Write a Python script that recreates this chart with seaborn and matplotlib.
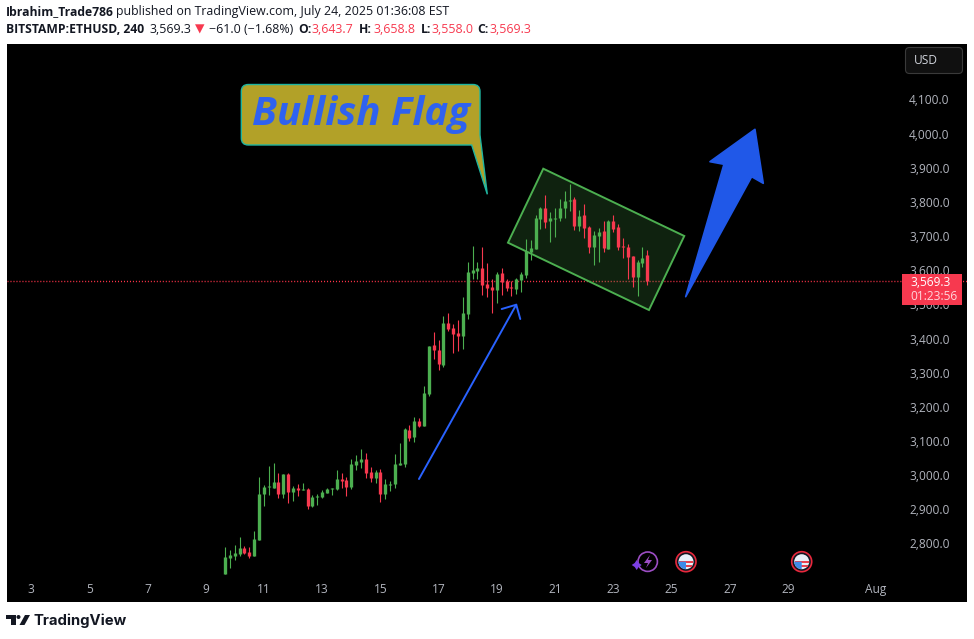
import numpy as np
import pandas as pd
import seaborn as sns
import matplotlib
matplotlib.use('Agg')
import matplotlib.pyplot as plt
from matplotlib.patches import Circle, FancyBboxPatch, Polygon, PathPatch, Rectangle, Wedge
from matplotlib.path import Path
from matplotlib.transforms import Affine2D

# 4h candles, first one is July 9 16:00
first_day = 9 + 16 / 24
opens = [2711.6, 2757.5, 2763.3, 2769, 2786.7, 2775, 2763.3, 2810, 2945, 2965, 2962.4,
         2980, 2945, 3003.4, 2950.7, 2962.4, 2956.6, 2959.5, 2909.7, 2936, 2936, 2947.8,
         2959.5, 2959.5, 2988.8, 2985.8, 2965.3, 3029.8, 3038.5, 3047.3, 3009.3, 2991.7,
         3009.3, 2944.8, 2971.2, 2974.1, 3029.8, 3032.7, 3132.2, 3111.7, 3158.6, 3143.9,
         3237.7, 3381.2, 3366.5, 3322.6, 3445.6, 3431, 3416.3, 3407.5, 3472, 3592, 3597.8,
         3606.6, 3559.8, 3551, 3542.2, 3592, 3568.6, 3551, 3545.2, 3571.5, 3586.1, 3653.4,
         3662.2, 3750, 3782.3, 3744.2, 3750, 3753, 3782.3, 3802.8, 3808.6, 3729.6, 3761.8,
         3726.6, 3668.1, 3700.3, 3714.9, 3662.2, 3744.2, 3726.6, 3671, 3668.1, 3641.7,
         3580.2, 3621.2, 3643.7]
closes = [2760.4, 2766.2, 2772, 2786.7, 2772, 2763.3, 2813, 2945, 2965, 2968, 2980,
          2945, 3003.4, 2950.7, 2962.4, 2956.6, 2959.5, 2909.7, 2936, 2939, 2950.7, 2959.5,
          2961.4, 2988.8, 2983, 2965.3, 3032.7, 3041.5, 3047.3, 3006.3, 2991.7, 3009.3,
          2944.8, 2974.1, 2974.1, 3032.7, 3035.6, 3135.2, 3108.8, 3158.6, 3143.9, 3240.6,
          3378, 3366.5, 3325.5, 3445.6, 3428, 3413.4, 3407.5, 3474.9, 3594.9, 3600.8, 3606.6,
          3556.9, 3548.1, 3542.2, 3589, 3565.6, 3548.1, 3548.1, 3574.4, 3589, 3656.4, 3665.1,
          3753, 3782.3, 3741.3, 3753, 3753, 3782.3, 3802.8, 3805.7, 3729.6, 3758.8, 3723.7,
          3668.1, 3703.2, 3712, 3665.1, 3744.2, 3720.8, 3668.1, 3668.1, 3638.8, 3580.2,
          3624.1, 3635.9, 3569.3]
highs = [2789.7, 2780, 2794.5, 2819, 2792.6, 2789.7, 2835.5, 2994.6, 2971, 3026.8, 3035.6,
         3006.3, 3004.4, 3005.4, 2968.3, 2974.1, 2977, 2962.4, 2941.9, 2944.8, 2956.6, 2962.4,
         2962.4, 3015.1, 3006.3, 2994.6, 3047.3, 3059, 3076.6, 3064.9, 3023.9, 3015.1,
         3018, 2988.8, 2982.9, 3062, 3094.2, 3138, 3146.9, 3170.3, 3167.4, 3261,
         3378, 3419.2, 3395.8, 3466.1, 3474.9, 3442.7, 3454.4, 3521.7, 3624.2, 3671, 3624.2,
         3668.1, 3621.3, 3574.4, 3594.9, 3606.6, 3574.4, 3568.6, 3577.4, 3594.9, 3691.5, 3688.6,
         3761.8, 3785.2, 3820.3, 3770.5, 3782.3, 3808.6, 3832, 3852.5, 3814.5, 3776.4, 3794,
         3729.6, 3714.9, 3723.7, 3744.2, 3747.1, 3761.8, 3735.4, 3694.4, 3676.8, 3641.7,
         3630, 3668, 3658.8]
lows = [2711.6, 2728.2, 2751.6, 2763.3, 2769, 2757.5, 2763.3, 2810, 2909.7, 2942, 2962.4,
        2933.1, 2933.1, 2918.5, 2924.4, 2939, 2956.6, 2901, 2906.8, 2912.6, 2933.1, 2947.8,
        2942, 2956.6, 2962.4, 2939, 2959.5, 3015.1, 3021, 2991.7, 2980, 2977,
        2921.4, 2930.2, 2953.6, 2962.4, 3029.8, 3024, 3100, 3097, 3141, 3143.9,
        3231.9, 3340.2, 3308, 3316.8, 3422.2, 3357.8, 3363.6, 3369.5, 3457.3, 3574.4, 3574.4,
        3527.6, 3521.7, 3474.9, 3504.2, 3527.6, 3539.3, 3524.7, 3530.5, 3536.4, 3577.3, 3630,
        3662.2, 3720.8, 3723.7, 3682.7, 3697.3, 3744.2, 3753, 3773.5, 3717.8, 3714.9, 3694.4,
        3650.5, 3615.4, 3624.1, 3653.4, 3662.2, 3712, 3659.3, 3635.9, 3574.4, 3551,
        3524.6, 3609.5, 3558]

price_ticks = [2800, 2900, 3000, 3100, 3200, 3300, 3400, 3500, 3600, 3700, 3800, 3900, 4000, 4100]
day_ticks = [3, 5, 7, 9, 11, 13, 15, 17, 19, 21, 23, 25, 27, 29, 32]
day_labels = ['3', '5', '7', '9', '11', '13', '15', '17', '19', '21', '23', '25', '27', '29', 'Aug']
last_price = 3569.3

# drawings anchored on the chart (day, price)
flag_box = [(20.596, 3897.4), (25.439, 3700.3), (24.226, 3483.6), (19.383, 3680.7)]
small_arrow = [(16.326, 2988.7), (19.668, 3499.1)]
small_arrow_head = [(19.167, 3486.5), (19.668, 3499.1), (19.806, 3457.2)]
big_arrow = [(25.487, 3522.5), (26.802, 3910.3), (26.321, 3917.9), (27.867, 4012.7),
             (28.152, 3854.6), (27.754, 3873.9)]

GREEN = '#4CAF50'
RED = '#F7394F'
BLUE = '#2962FF'
DARK = '#131722'
TICK = '#B2B5BE'

sns.set_theme(style='dark', rc={'axes.facecolor': 'black', 'figure.facecolor': 'white'})
plt.rcParams['font.family'] = ['Open Sans', 'DejaVu Sans']

fig = plt.figure(figsize=(9.74, 6.39), dpi=100)
# pixel coords for the page furniture, top-left origin
px = Affine2D().scale(1, -1).translate(0, 639)
ax = fig.add_axes([7 / 974, 1 - 602 / 639, 960 / 974, 558 / 639])
ax.set_axisbelow(True)

df = pd.DataFrame({'candle': np.arange(len(opens)), 'open': opens, 'close': closes,
                   'high': highs, 'low': lows})
df['day'] = first_day + df['candle'] / 6
df['direction'] = np.where(df['close'] >= df['open'], 'up', 'down')
palette = {'up': GREEN, 'down': RED}

wicks = df.melt(id_vars=['candle', 'day', 'direction'], value_vars=['low', 'high'], value_name='price')
bodies = df.melt(id_vars=['candle', 'day', 'direction'], value_vars=['open', 'close'], value_name='price')
sns.lineplot(data=wicks, x='day', y='price', hue='direction', units='candle', estimator=None,
             palette=palette, linewidth=0.8, legend=False, ax=ax, solid_capstyle='butt', zorder=3)
sns.lineplot(data=bodies, x='day', y='price', hue='direction', units='candle', estimator=None,
             palette=palette, linewidth=2.4, legend=False, ax=ax, solid_capstyle='butt', zorder=3)

ax.set_xlim(2.176, 35.15)
ax.set_ylim(2628.6, 4262.5)
ax.set_xlabel('')
ax.set_ylabel('')
ax.grid(False)
for s in ax.spines.values():
    s.set_visible(False)

ax.set_xticks(day_ticks)
ax.set_xticklabels(day_labels)
ax.yaxis.tick_right()
ax.set_yticks(price_ticks)
ax.set_yticklabels([f'{p:,.1f}' for p in price_ticks], ha='right')
ax.tick_params(axis='x', length=0, pad=-14, labelsize=8.6, labelcolor=TICK)
ax.tick_params(axis='y', length=0, pad=-12.5, labelsize=8.6, labelcolor=TICK)

# last price line
ax.axhline(last_price - 2, color='#FF3348', linewidth=1.0, linestyle=(0, (0.75, 1.4)), zorder=1.5)

# flag and arrows
ax.add_patch(Polygon(flag_box, closed=True, facecolor=GREEN, alpha=0.2, edgecolor='none', zorder=2))
ax.add_patch(Polygon(flag_box, closed=True, facecolor='none', edgecolor=GREEN, linewidth=1.4, zorder=4))
ax.plot(*zip(*small_arrow), color=BLUE, linewidth=1.4, zorder=4)
ax.plot(*zip(*small_arrow_head), color=BLUE, linewidth=1.4, zorder=4)
ax.add_patch(Polygon(big_arrow, closed=True, facecolor='#2058E8', edgecolor='#2058E8',
                     linewidth=1.2, joinstyle='round', zorder=4))

# callout
L, R, T, B, c = 241.3, 480, 84.5, 145, 7
verts = [(L + c, T), (R - c, T), (R, T), (R, T + c), (R, 135), (487.3, 194.3), (471.7, B),
         (L + c, B), (L, B), (L, B - c), (L, T + c), (L, T), (L + c, T)]
codes = [Path.MOVETO, Path.LINETO, Path.CURVE3, Path.CURVE3, Path.LINETO, Path.LINETO, Path.LINETO,
         Path.LINETO, Path.CURVE3, Path.CURVE3, Path.LINETO, Path.CURVE3, Path.CURVE3]
fig.add_artist(PathPatch(Path(verts, codes), facecolor='#B2A128', edgecolor='#1FB5A0', linewidth=1,
                         transform=px, zorder=5))
fig.text(361.5, 114, 'Bullish Flag', transform=px, ha='center', va='center', fontsize=29,
         family='Open Sans', weight='bold', style='italic', color='#2F62F0', zorder=6)

# usd box and price tag
fig.add_artist(FancyBboxPatch((905.5, 47.5), 57, 26, boxstyle='round,pad=0,rounding_size=4', mutation_aspect=1,
                              facecolor='#101010', edgecolor='#3A3A3A', linewidth=0.8, transform=px, zorder=5))
fig.text(914, 61, 'USD', transform=px, va='center', fontsize=8.6, color='#D1D4DC', zorder=6)
fig.add_artist(Rectangle((902, 274), 60, 31, facecolor=RED, edgecolor='none', transform=px, zorder=5))
fig.text(910, 282, '3,569.3', transform=px, va='center', fontsize=8.6, color='white', zorder=6)
fig.text(910, 296, '01:23:56', transform=px, va='center', fontsize=8.6, color='#FFD6DB', zorder=6)

# event icons on the time axis
def flag_icon(x, y):
    fig.add_artist(Circle((x, y), 10, facecolor='#131722', edgecolor='#E8283C', linewidth=1.2, transform=px, zorder=5))
    fig.add_artist(Circle((x, y), 7.5, facecolor='#E8F0F8', edgecolor='none', transform=px, zorder=6))
    fig.add_artist(Rectangle((x - 7, y - 1), 14, 2.2, facecolor='#E8414F', edgecolor='none', transform=px, zorder=7))
    fig.add_artist(Rectangle((x - 6, y + 3), 12, 2.2, facecolor='#E8414F', edgecolor='none', transform=px, zorder=7))
    fig.add_artist(Wedge((x, y), 7.5, 90, 180, facecolor='#3D8BE8', edgecolor='none', transform=px, zorder=8))

fig.add_artist(Circle((647.7, 561.7), 9.7, facecolor='none', edgecolor='#9C4DC4', linewidth=1.2, transform=px, zorder=5))
fig.add_artist(Polygon([(650, 555), (644, 563), (648, 563), (646, 568), (652, 560), (648, 560)], closed=True,
                       facecolor='#9C4DC4', edgecolor='none', transform=px, zorder=6))
fig.add_artist(Polygon([(636.7, 560), (638.7, 563), (641.7, 565), (638.7, 567), (636.7, 570), (634.7, 567),
                        (631.7, 565), (634.7, 563)], closed=True, facecolor='#7B3FE4', edgecolor='none',
                       transform=px, zorder=6))
flag_icon(686, 561.7)
flag_icon(801.7, 561.7)

# header
HEAD = 8.9
BOLD = 8.7
fig.text(6, 12, 'Ibrahim_Trade786', transform=px, va='center', fontsize=BOLD, weight='bold', color=DARK)
fig.text(116, 12, 'published on TradingView.com, July 24, 2025 01:36:08 EST', transform=px, va='center',
         fontsize=HEAD, color=DARK)
line2 = [(6, 'BITSTAMP:ETHUSD, 240', 'bold', DARK), (149, '3,569.3', 'normal', DARK),
         (195, '▼', 'normal', RED), (209, '−61.0 (−1.68%)', 'normal', DARK),
         (298, 'O:', 'bold', DARK), (312, '3,643.7', 'normal', RED),
         (359, 'H:', 'bold', DARK), (373, '3,658.8', 'normal', RED),
         (421, 'L:', 'bold', DARK), (431, '3,558.0', 'normal', RED),
         (477, 'C:', 'bold', DARK), (489, '3,569.3', 'normal', RED)]
for x, s, w, col in line2:
    fig.text(x, 29.5, s, transform=px, va='center', fontsize=BOLD if w == 'bold' else HEAD, weight=w, color=col)

# logo
fig.add_artist(Polygon([(6, 615), (15.5, 615), (15.5, 625), (11, 625), (11, 619), (6, 619)], closed=True,
                       facecolor=DARK, edgecolor='none', transform=px))
fig.add_artist(Circle((18.5, 617), 2, facecolor=DARK, edgecolor='none', transform=px))
fig.add_artist(Polygon([(25, 615), (30, 615), (24.5, 625), (19.5, 625)], closed=True,
                       facecolor=DARK, edgecolor='none', transform=px))
fig.text(33, 620.5, 'TradingView', transform=px, va='center', fontsize=10.7, weight='bold', color=DARK,
         family='Inter')

fig.savefig('out.png', dpi=100)
